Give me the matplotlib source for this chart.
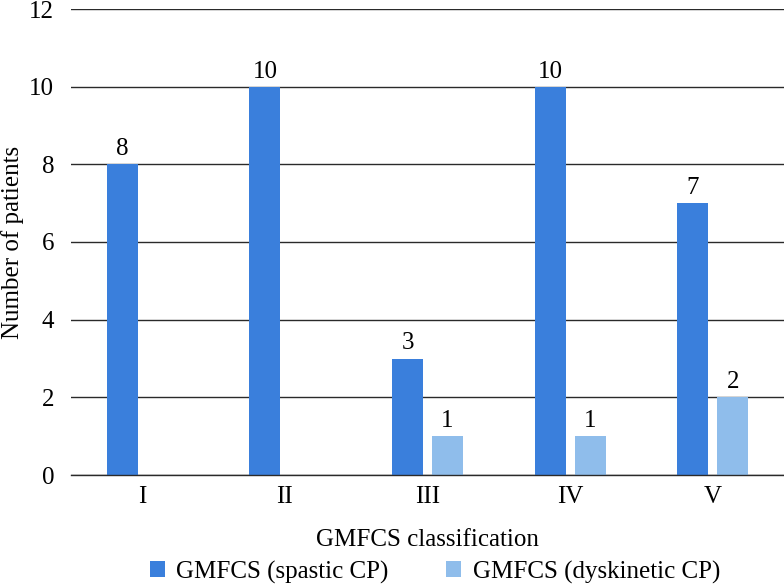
import numpy as np
import matplotlib
matplotlib.use('Agg')
import matplotlib.pyplot as plt

categories = ['I', 'II', 'III', 'IV', 'V']
spastic = [8, 10, 3, 10, 7]
dyskinetic = [0, 0, 1, 1, 2]
series_names = ['GMFCS (spastic CP)', 'GMFCS (dyskinetic CP)']
yticks = [0, 2, 4, 6, 8, 10, 12]

plt.rcParams['font.family'] = ['Liberation Serif', 'DejaVu Serif']
fs = 18

fig = plt.figure(figsize=(7.84, 5.88), dpi=100)
ax = fig.add_axes([71 / 784, 1 - 475 / 588, 713 / 784, 466 / 588])

x = np.arange(len(categories))
w = 0.217
off = 0.14
c1, c2 = '#3a7fdc', '#8fbdeb'

b1 = ax.bar(x - off, spastic, w, color=c1, label=series_names[0], zorder=3)
vals2 = [v if v > 0 else np.nan for v in dyskinetic]
b2 = ax.bar(x + off, vals2, w, color=c2, label=series_names[1], zorder=3)

ax.bar_label(b1, labels=[str(v) for v in spastic], padding=3, fontsize=fs)
ax.bar_label(b2, labels=[str(v) if v > 0 else '' for v in dyskinetic], padding=3, fontsize=fs)

ax.set_xlim(-0.5, len(categories) - 0.5)
ax.set_ylim(0, 12)
ax.set_yticks(yticks)
ax.set_xticks(x)
ax.set_xticklabels(categories)
ax.tick_params(axis='both', length=0, labelsize=fs)
ax.tick_params(axis='y', pad=12)
ax.tick_params(axis='x', pad=8)
ax.yaxis.grid(True, color='#2a2a2a', lw=1.0, zorder=0)
ax.set_axisbelow(True)
for s in ['left', 'right', 'top']:
    ax.spines[s].set_visible(False)
ax.spines['bottom'].set_color('#2a2a2a')
ax.spines['bottom'].set_linewidth(1.0)
ax.spines['bottom'].set_zorder(4)

for lbl in ax.get_yticklabels():
    lbl.set_clip_on(False)

ax.set_xlabel('GMFCS classification', fontsize=fs, labelpad=15)
ax.set_ylabel('Number of patients', fontsize=fs)
ax.yaxis.set_label_coords(-0.066, 0.5)

fig.legend(handles=[b1, b2], loc='center', bbox_to_anchor=(0.555, 0.027), ncol=2,
           frameon=False, fontsize=fs, handlelength=0.6, handleheight=0.6,
           columnspacing=2.3, handletextpad=0.45)

fig.savefig('out.png', dpi=100)
